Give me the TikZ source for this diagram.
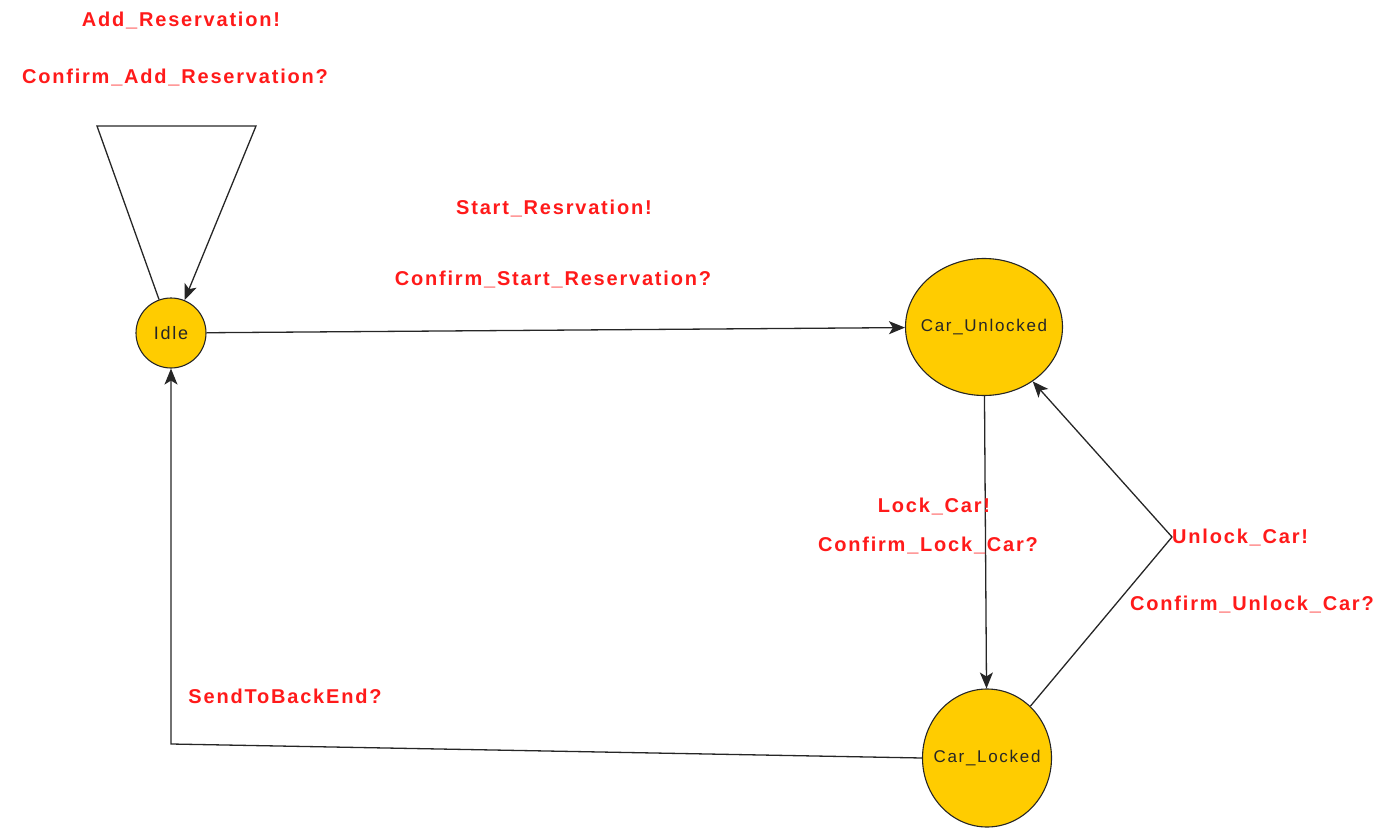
\documentclass[tikz,border=0pt]{standalone}
\usepackage{fontspec}
\setmainfont{Liberation Sans}
\newfontfamily\lblfont[LetterSpace=9]{Liberation Sans}
\newfontfamily\stfont[LetterSpace=10]{Liberation Sans}
\usetikzlibrary{shapes.geometric,arrows.meta}
\definecolor{stfill}{HTML}{FFCC00}
\definecolor{lblred}{HTML}{FF1A1A}
\begin{document}
\begin{tikzpicture}[x=1pt,y=-1pt,
  state/.style={draw=black!85,line width=1.1pt,fill=stfill,text=black!85,inner sep=0pt},
  lbl/.style={text=lblred,font=\lblfont\bfseries\fontsize{20}{22}\selectfont,inner sep=0pt},
  edge/.style={draw=black!85,line width=1.3pt},
  arr/.style={edge,-{Stealth[length=16pt,width=13pt,inset=4pt]}}]
\useasboundingbox (0,0) rectangle (1384,829);
% states
\node[state,circle,minimum size=70pt,font=\stfont\fontsize{18}{20}\selectfont] (idle) at (171,333) {\makebox[0pt]{Idle}};
\node[state,ellipse,minimum width=157pt,minimum height=137pt,font=\stfont\fontsize{17}{19}\selectfont] (cu) at (984,327) {\makebox[0pt]{Car\_Unlocked}};
\node[state,ellipse,minimum width=129pt,minimum height=138pt,font=\stfont\fontsize{17}{19}\selectfont] (cl) at (987,758) {\makebox[0pt]{Car\_Locked}};
% corner coordinates
\coordinate (l1) at (97,126);
\coordinate (l2) at (256,126);
\coordinate (u1) at (1172,537);
\coordinate (s1) at (171,744);
% edges
\draw[arr] (idle) -- (l1) -- (l2) -- (idle);
\draw[arr] (idle) -- (cu);
\draw[arr] (cu) -- (cl);
\draw[arr] (cl) -- (u1) -- (cu);
\draw[arr] (cl.180) -- (s1) -- (idle);
% labels
\node[lbl] (t1) at (181,20) {Add\_Reservation!};
\node[lbl] (t2) at (175,77) {Confirm\_Add\_Reservation?};
\node[lbl] (t3) at (554,208) {Start\_Resrvation!};
\node[lbl] (t4) at (553,279) {Confirm\_Start\_Reservation?};
\node[lbl] (t5) at (934,506) {Lock\_Car!};
\node[lbl] (t6) at (928,545) {Confirm\_Lock\_Car?};
\node[lbl,anchor=west] (t7) at (1172,537) {Unlock\_Car!};
\node[lbl] (t8) at (1252,604) {Confirm\_Unlock\_Car?};
\node[lbl] (t9) at (285,696) {SendToBackEnd?};
\end{tikzpicture}
\end{document}
